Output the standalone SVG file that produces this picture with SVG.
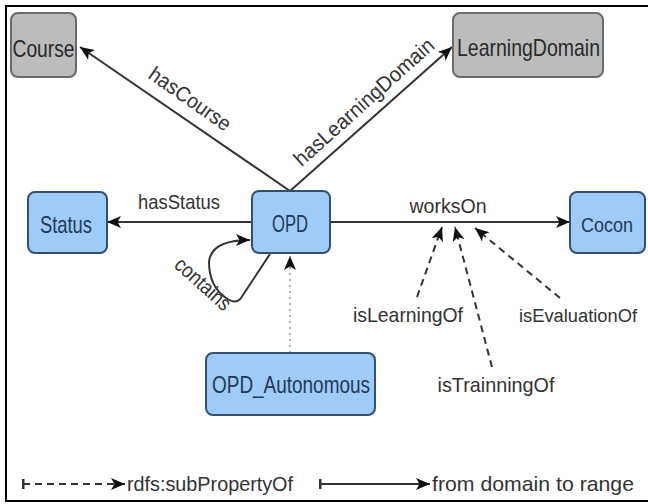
<svg xmlns="http://www.w3.org/2000/svg" width="648" height="504" viewBox="0 0 648 504">
  <defs>
    <marker id="head" markerUnits="userSpaceOnUse" markerWidth="16" markerHeight="14" refX="14" refY="6" orient="auto">
      <path d="M0,0 L14,6 L0,12 L3.5,6 Z" fill="#111"/>
    </marker>
    <marker id="tick" markerUnits="userSpaceOnUse" markerWidth="4" markerHeight="12" refX="1.5" refY="6" orient="auto">
      <rect x="0" y="1" width="3" height="10" fill="#333"/>
    </marker>
  </defs>
  <style>
    .cls-blue { fill: #9ecbf7; stroke: #34506e; stroke-width: 2; }
    .cls-gray { fill: #bcbcbc; stroke: #6a6a6a; stroke-width: 2; }
    .name { font-family: "Liberation Sans", Arial, sans-serif; font-size: 24px; text-anchor: middle; }
    .name-blue { fill: #1f3a58; }
    .name-gray { fill: #2a2a2a; }
    .lbl { font-family: "Liberation Sans", Arial, sans-serif; font-size: 21px; fill: #333; text-anchor: middle; }
    .prop { fill: none; stroke: #333; stroke-width: 2; }
    .sub { fill: none; stroke: #333; stroke-width: 2; stroke-dasharray: 7 5; }
    .inst { fill: none; stroke: #b5b5b5; stroke-width: 2; stroke-dasharray: 2 4; }
  </style>

  <rect width="648" height="504" fill="#fff"/>
  <!-- frame -->
  <path d="M652 6 H6 V501 H652" fill="none" stroke="#000" stroke-width="2"/>

  <!-- connectors -->
  <g id="connectors">
    <line class="prop" x1="290" y1="191" x2="80" y2="47" marker-end="url(#head)"/>
    <line class="prop" x1="290" y1="191" x2="452" y2="47" marker-end="url(#head)"/>
    <line class="prop" x1="252" y1="222" x2="107" y2="222" marker-end="url(#head)"/>
    <line class="prop" x1="330" y1="222" x2="570" y2="222" marker-end="url(#head)"/>
    <path class="prop" d="M270 254 L241 298 Q236 305 226 298 Q209 286 209 262 Q211 240 250 240" marker-end="url(#head)"/>
    <line class="inst" x1="290" y1="353" x2="290" y2="256" marker-end="url(#head)"/>
    <line class="sub" x1="417" y1="297" x2="442" y2="227" marker-end="url(#head)"/>
    <line class="sub" x1="492" y1="367" x2="455" y2="227" marker-end="url(#head)"/>
    <line class="sub" x1="560" y1="298" x2="475" y2="228" marker-end="url(#head)"/>

    <text class="lbl" transform="translate(190,99) rotate(35)" y="7" textLength="95" lengthAdjust="spacingAndGlyphs">hasCourse</text>
    <text class="lbl" transform="translate(364,102) rotate(-41.8)" y="7" textLength="180" lengthAdjust="spacingAndGlyphs">hasLearningDomain</text>
    <text class="lbl" x="179" y="209" textLength="82" lengthAdjust="spacingAndGlyphs">hasStatus</text>
    <text class="lbl" x="448" y="213" textLength="77" lengthAdjust="spacingAndGlyphs">worksOn</text>
    <text class="lbl" transform="translate(203,284) rotate(42)" y="7" textLength="68" lengthAdjust="spacingAndGlyphs">contains</text>
    <text class="lbl" x="408" y="322" textLength="110" lengthAdjust="spacingAndGlyphs">isLearningOf</text>
    <text class="lbl" x="578" y="322" style="font-size:18px" textLength="118" lengthAdjust="spacingAndGlyphs">isEvaluationOf</text>
    <text class="lbl" x="496" y="392" textLength="117" lengthAdjust="spacingAndGlyphs">isTrainningOf</text>
  </g>

  <!-- classes -->
  <g id="Course">
    <rect class="cls-gray" x="11" y="13" width="65" height="64" rx="7"/>
    <text class="name name-gray" x="43.5" y="57" textLength="62" lengthAdjust="spacingAndGlyphs">Course</text>
  </g>
  <g id="LearningDomain">
    <rect class="cls-gray" x="453" y="13" width="150" height="64" rx="7"/>
    <text class="name name-gray" x="528.5" y="56" textLength="143" lengthAdjust="spacingAndGlyphs">LearningDomain</text>
  </g>
  <g id="Status">
    <rect class="cls-blue" x="28" y="192" width="79" height="61" rx="7"/>
    <text class="name name-blue" x="66" y="233" textLength="52" lengthAdjust="spacingAndGlyphs">Status</text>
  </g>
  <g id="OPD">
    <rect class="cls-blue" x="252" y="191" width="78" height="62" rx="7"/>
    <text class="name name-blue" x="290" y="232" textLength="36" lengthAdjust="spacingAndGlyphs">OPD</text>
  </g>
  <g id="Cocon">
    <rect class="cls-blue" x="570" y="192" width="75" height="61" rx="7"/>
    <text class="name name-blue" x="607" y="232" style="font-size:21px" textLength="52" lengthAdjust="spacingAndGlyphs">Cocon</text>
  </g>
  <g id="OPD_Autonomous">
    <rect class="cls-blue" x="206" y="353" width="169" height="62" rx="7"/>
    <text class="name name-blue" x="291" y="393" textLength="158" lengthAdjust="spacingAndGlyphs">OPD_Autonomous</text>
  </g>

  <!-- legend -->
  <g id="legend">
    <line class="sub" x1="23" y1="484" x2="125" y2="484" marker-start="url(#tick)" marker-end="url(#head)"/>
    <text class="lbl" x="127" y="491" style="text-anchor:start" textLength="166" lengthAdjust="spacingAndGlyphs">rdfs:subPropertyOf</text>
    <line class="prop" x1="320" y1="484" x2="430" y2="484" marker-start="url(#tick)" marker-end="url(#head)"/>
    <text class="lbl" x="432" y="491" style="text-anchor:start" textLength="202" lengthAdjust="spacingAndGlyphs">from domain to range</text>
  </g>
</svg>
